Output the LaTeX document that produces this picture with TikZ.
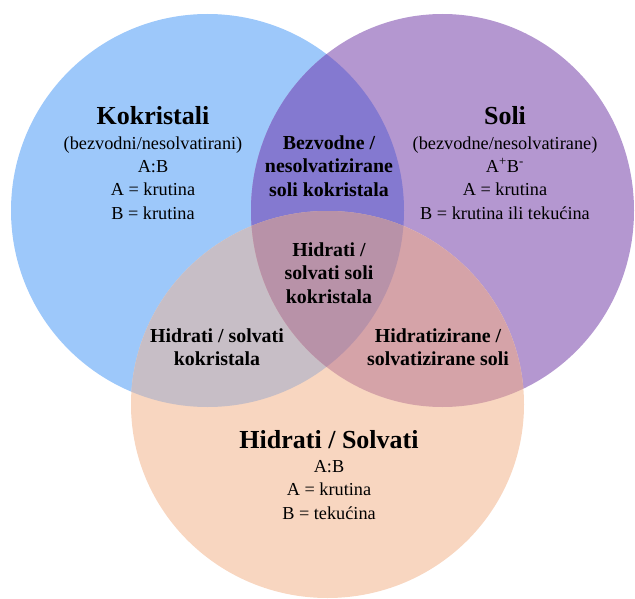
\documentclass[tikz,border=0pt]{standalone}
\usepackage{fontspec}
\setmainfont{Liberation Serif}
\usepackage{xcolor}
\usepackage{tikz}
\usetikzlibrary{positioning}

\definecolor{kokBlue}{RGB}{157,200,250}
\definecolor{soliPurple}{RGB}{180,151,208}
\definecolor{hidOrange}{RGB}{248,214,192}
\definecolor{kokSoli}{RGB}{132,121,208}
\definecolor{kokHid}{RGB}{199,190,198}
\definecolor{soliHid}{RGB}{213,163,168}
\definecolor{allThree}{RGB}{184,146,168}

\tikzset{
  vtitle/.style={font=\fontsize{19.5}{22}\selectfont\bfseries, align=center, inner sep=0pt},
  vbody/.style={font=\fontsize{13.7}{17.6}\selectfont, align=center, inner sep=0pt},
  vpart/.style={font=\fontsize{14.9}{17.6}\selectfont\bfseries, align=center, inner sep=0pt},
}

\begin{document}
\begin{tikzpicture}[x=0.75pt,y=0.75pt,yscale=-1,xscale=1]
        \clip (0,0) rectangle (635,599);
        % the three sets
        \fill [kokBlue] (207.5,210.5) ellipse (196.5 and 196.5);
        \fill [soliPurple] (442.5,210.5) ellipse (191.5 and 196.5);
        \fill [hidOrange] (327.5,404.5) ellipse (196.5 and 193.5);
        % overlaps
        \begin{scope}
            \clip (207.5,210.5) ellipse (196.5 and 196.5);
            \fill [kokSoli] (442.5,210.5) ellipse (191.5 and 196.5);
            \fill [kokHid] (327.5,404.5) ellipse (196.5 and 193.5);
        \end{scope}
        \begin{scope}
            \clip (442.5,210.5) ellipse (191.5 and 196.5);
            \fill [soliHid] (327.5,404.5) ellipse (196.5 and 193.5);
            \clip (207.5,210.5) ellipse (196.5 and 196.5);
            \fill [allThree] (327.5,404.5) ellipse (196.5 and 193.5);
        \end{scope}
        % texts
        \node [vtitle] (kokTitle) at (153,116) {Kokristali};
        \node [vbody] (kokText) at (153,178) {(bezvodni/nesolvatirani)\\A:B\\A = krutina\\B = krutina};
        \node [vtitle] (soliTitle) at (505,116) {Soli};
        \node [vbody] (soliText) at (505,178) {(bezvodne/nesolvatirane)\\A\textsuperscript{+}B\textsuperscript{-}\\A = krutina\\B = krutina ili tekućina};
        \node [vtitle] (hidTitle) at (329,440) {Hidrati / Solvati};
        \node [vbody] (hidText) at (329,490) {A:B\\A = krutina\\B = tekućina};
        \node [vpart] (kokSoliText) at (329,166) {Bezvodne /\\nesolvatizirane\\soli kokristala};
        \node [vpart] (allText) at (329,273) {Hidrati /\\solvati soli\\kokristala};
        \node [vpart] (kokHidText) at (217,347) {Hidrati / solvati\\kokristala};
        \node [vpart] (soliHidText) at (438,347) {Hidratizirane /\\solvatizirane soli};
    \end{tikzpicture}
\end{document}
